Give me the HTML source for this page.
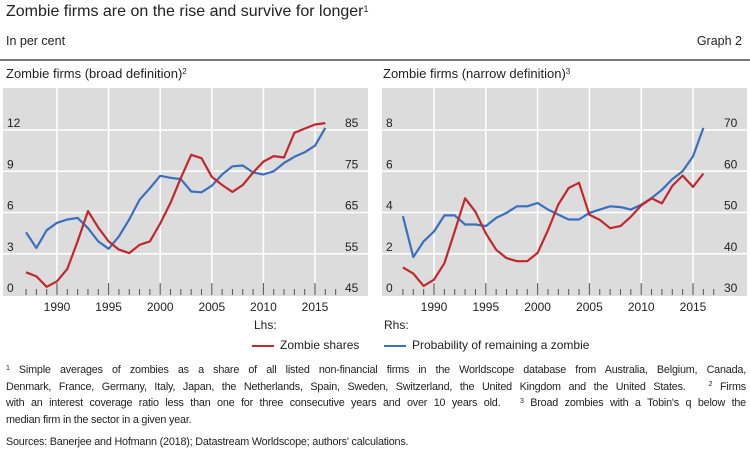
<!DOCTYPE html>
<html><head><meta charset="utf-8"><style>
body{margin:0;width:750px;height:455px;background:#fff;font-family:"Liberation Sans",sans-serif;color:#222;overflow:hidden;position:relative}
.t{position:absolute;white-space:nowrap}
.fl{text-align:justify;text-align-last:justify;white-space:nowrap}
sup{line-height:0;vertical-align:baseline;position:relative;top:-0.5em}
</style></head><body>
<div class="t" style="left:6px;top:3px;font-size:16px">Zombie firms are on the rise and survive for longer<sup style="font-size:9px">1</sup></div>
<div class="t" style="left:6px;top:34px;font-size:12.5px">In per cent</div>
<div class="t" style="right:8px;top:34px;font-size:12.5px">Graph 2</div>
<div style="position:absolute;left:0;top:59px;width:750px;height:2px;background:#777"></div>
<div class="t" style="left:6px;top:66px;font-size:13px">Zombie firms (broad definition)<sup style="font-size:8px">2</sup></div>
<div class="t" style="left:383px;top:66px;font-size:13px">Zombie firms (narrow definition)<sup style="font-size:8px">3</sup></div>
<svg id="c" width="750" height="455" style="position:absolute;left:0;top:0"></svg>
<div class="t" style="left:254px;top:318px;font-size:12px">Lhs:</div>
<div class="t" style="left:384px;top:318px;font-size:12px">Rhs:</div>
<div class="t" style="left:252px;top:338px;font-size:12px"><span style="display:inline-block;width:22px;height:2px;background:#c0282d;vertical-align:middle;margin-right:6px"></span>Zombie shares</div>
<div class="t" style="left:384px;top:338px;font-size:12px"><span style="display:inline-block;width:22px;height:2px;background:#3a6fbf;vertical-align:middle;margin-right:6px"></span>Probability of remaining a zombie</div>
<div style="position:absolute;left:6px;top:362px;width:740px;font-size:10.8px;line-height:16.5px;letter-spacing:-0.2px">
<div class="fl"><sup style="font-size:7px">1</sup> Simple averages of zombies as a share of all listed non-financial firms in the Worldscope database from Australia, Belgium, Canada,</div>
<div class="fl">Denmark, France, Germany, Italy, Japan, the Netherlands, Spain, Sweden, Switzerland, the United Kingdom and the United States. &nbsp; <sup style="font-size:7px">2</sup> Firms</div>
<div class="fl">with an interest coverage ratio less than one for three consecutive years and over 10 years old. &nbsp; <sup style="font-size:7px">3</sup> Broad zombies with a Tobin's q below the</div>
<div>median firm in the sector in a given year.</div>
</div>
<div class="t" style="left:6px;top:436px;font-size:10.8px;letter-spacing:-0.2px">Sources: Banerjee and Hofmann (2018); Datastream Worldscope; authors' calculations.</div>
<script>
const years=[1987,1988,1989,1990,1991,1992,1993,1994,1995,1996,1997,1998,1999,2000,2001,2002,2003,2004,2005,2006,2007,2008,2009,2010,2011,2012,2013,2014,2015,2016];
const broadShares=[1.65,1.35,0.6,1.0,1.9,3.9,6.1,4.9,3.9,3.3,3.05,3.65,3.9,5.2,6.7,8.5,10.2,9.95,8.6,8.0,7.5,8.0,8.9,9.7,10.1,10.0,11.8,12.1,12.4,12.5];
const broadProb=[60.2,56.4,60.7,62.5,63.3,63.7,61.2,58.0,56.2,59.2,63.3,68.1,70.9,73.9,73.4,73.1,70.1,69.9,71.5,74.2,76.2,76.4,74.7,74.2,75.0,77.0,78.5,79.6,81.2,85.5];
const narrowShares=[1.34,1.04,0.44,0.74,1.54,3.09,4.69,4.04,2.99,2.19,1.79,1.64,1.64,2.04,3.14,4.39,5.19,5.44,3.89,3.64,3.24,3.34,3.79,4.34,4.69,4.44,5.29,5.79,5.24,5.89];
const narrowProb=[49.1,39.2,43.0,45.4,49.3,49.3,47.1,47.1,46.7,48.7,49.9,51.5,51.5,52.3,50.7,49.5,48.3,48.3,49.9,50.7,51.5,51.3,50.7,51.9,53.5,55.5,58.1,60.0,63.6,70.5];
const leftLhsTicks=[0,3,6,9,12];
const leftRhsTicks=[45,55,65,75,85];
const rightLhsTicks=[0,2,4,6,8];
const rightRhsTicks=[30,40,50,60,70];
const yearLabels=[1990,1995,2000,2005,2010,2015];
const NS="http://www.w3.org/2000/svg";
const svg=document.getElementById('c');
function mk(tag,a,name){const e=document.createElementNS(NS,tag);for(const k in a)e.setAttribute(k,a[k]);


svg.appendChild(e);return e;}
function panel(p){
  const Y0=295,SPAN=165;
  const x=y=>p.x1990+(y-1990)*p.py;
  const yl=v=>Y0-(v-p.lt[0])/(p.lt[p.lt.length-1]-p.lt[0])*SPAN;
  const yr=v=>Y0-(v-p.rt[0])/(p.rt[p.rt.length-1]-p.rt[0])*SPAN;
  mk('rect',{x:p.bx,y:88,width:365,height:208,fill:'#dcdcdc'},p.id+'-plot-bg');
  p.lt.forEach((t,i)=>{if(i>0)mk('line',{x1:p.bx,x2:p.bx+365,y1:yl(t),y2:yl(t),stroke:'#fff','stroke-width':1.5},p.id+'-gridline-h');
    const a=mk('text',{x:p.bx+4,y:yl(t)-3,'font-size':12,fill:'#222'},p.id+'-lhs-tick');a.textContent=t;});
  p.rt.forEach(t=>{const a=mk('text',{x:p.bx+342,y:yr(t)-3,'font-size':12,fill:'#222'},p.id+'-rhs-tick');a.textContent=t;});
  yearLabels.forEach(y=>{mk('line',{x1:x(y),x2:x(y),y1:88,y2:284,stroke:'#fff','stroke-width':1.5},p.id+'-gridline-v');
    const a=mk('text',{x:x(y),y:311,'font-size':12,fill:'#222','text-anchor':'middle'},p.id+'-year-label');a.textContent=y;});
  for(let y=1987;y<=2017;y++){const maj=y%5==0;mk('line',{x1:x(y),x2:x(y),y1:maj?283:289,y2:295,stroke:'#555','stroke-width':1},p.id+'-x-tick');}
  const path=(vals,f)=>vals.map((v,i)=>(i?'L':'M')+x(years[i]).toFixed(1)+','+f(v).toFixed(1)).join('');
  mk('path',{d:path(p.prob,yr),fill:'none',stroke:'#3a6fbf','stroke-width':2.2,'stroke-linejoin':'round'},p.id+'-probability-line');
  mk('path',{d:path(p.shares,yl),fill:'none',stroke:'#c0282d','stroke-width':2.2,'stroke-linejoin':'round'},p.id+'-shares-line');
}
panel({id:'broad',bx:3,x1990:57,py:10.32,lt:leftLhsTicks,rt:leftRhsTicks,shares:broadShares,prob:broadProb});
panel({id:'narrow',bx:382,x1990:434,py:10.36,lt:rightLhsTicks,rt:rightRhsTicks,shares:narrowShares,prob:narrowProb});
</script>
</body></html>
